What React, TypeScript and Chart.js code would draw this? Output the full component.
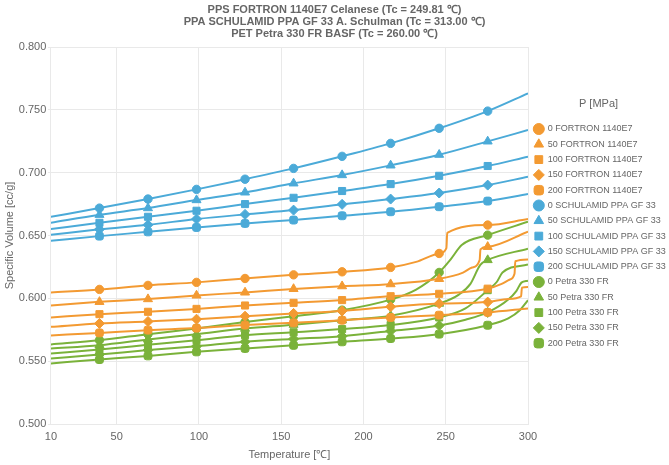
import { useEffect, useRef } from "react";
import { Chart, registerables } from "chart.js";

Chart.register(...registerables);

type Pt = [number, number];

const FONT = "'Liberation Sans', Arial, Helvetica, sans-serif";
const GREY = "#666";
const GRID = "#e9e9e9";

const titleLines = [
  "PPS FORTRON 1140E7 Celanese (Tc = 249.81 ℃)",
  "PPA SCHULAMID PPA GF 33 A. Schulman (Tc = 313.00 ℃)",
  "PET Petra 330 FR BASF (Tc = 260.00 ℃)",
];

// pressures of the isobars, MPa
const pressures = [0, 50, 100, 150, 200];
// temperatures where a marker is shown
const markerTemps = [39.5, 69, 98.5, 128, 157.5, 187, 216.5, 246, 275.5];

// PPS FORTRON 1140E7 [T, v]
const fortron0: Pt[] = [[10, 0.6047], [39.5, 0.6071], [69, 0.6103], [98.5, 0.6127], [128, 0.6158], [157.5, 0.6187], [187, 0.6211], [216.5, 0.6246], [232, 0.629], [246, 0.6357], [250.4, 0.64], [250.9, 0.652], [275.5, 0.6583], [300, 0.6631]];
const fortron50: Pt[] = [[10, 0.5943], [39.5, 0.5972], [69, 0.5994], [98.5, 0.6023], [128, 0.6047], [157.5, 0.6075], [187, 0.6097], [216.5, 0.6113], [246, 0.6155], [260.5, 0.6205], [266, 0.6245], [270.6, 0.6304], [271.1, 0.6389], [275.5, 0.641], [300, 0.653]];
const fortron100: Pt[] = [[10, 0.5848], [39.5, 0.5874], [69, 0.5893], [98.5, 0.5916], [128, 0.5943], [157.5, 0.5964], [187, 0.5986], [216.5, 0.6017], [246, 0.6036], [275.5, 0.6077], [284, 0.6115], [289, 0.615], [291.8, 0.6195], [292.3, 0.6295], [300, 0.631]];
const fortron150: Pt[] = [[10, 0.5773], [39.5, 0.58], [69, 0.5816], [98.5, 0.5834], [128, 0.5858], [157.5, 0.588], [187, 0.59], [216.5, 0.5933], [246, 0.5958], [275.5, 0.597], [288, 0.5995], [295.8, 0.6015], [296.3, 0.6085], [300, 0.609]];
const fortron200: Pt[] = [[10, 0.5705], [39.5, 0.5725], [69, 0.5747], [98.5, 0.5763], [128, 0.5787], [157.5, 0.5805], [187, 0.5826], [216.5, 0.5848], [246, 0.5866], [275.5, 0.5888], [300, 0.592]];

// PPA SCHULAMID PPA GF 33 [T, v]
const schulamid0: Pt[] = [[10, 0.6649], [39.5, 0.6718], [69, 0.679], [98.5, 0.6867], [128, 0.6948], [157.5, 0.7034], [187, 0.713], [216.5, 0.7233], [246, 0.7353], [275.5, 0.749], [300, 0.7631]];
const schulamid50: Pt[] = [[10, 0.6601], [39.5, 0.6665], [69, 0.6718], [98.5, 0.6782], [128, 0.6843], [157.5, 0.6915], [187, 0.6981], [216.5, 0.7058], [246, 0.7143], [275.5, 0.7249], [300, 0.7339]];
const schulamid100: Pt[] = [[10, 0.6551], [39.5, 0.6601], [69, 0.6649], [98.5, 0.6697], [128, 0.675], [157.5, 0.68], [187, 0.6854], [216.5, 0.6909], [246, 0.6975], [275.5, 0.7053], [300, 0.7127]];
const schulamid150: Pt[] = [[10, 0.6506], [39.5, 0.6549], [69, 0.6585], [98.5, 0.6631], [128, 0.6668], [157.5, 0.6702], [187, 0.6748], [216.5, 0.679], [246, 0.6838], [275.5, 0.6901], [300, 0.6967]];
const schulamid200: Pt[] = [[10, 0.6458], [39.5, 0.6495], [69, 0.6529], [98.5, 0.6564], [128, 0.6596], [157.5, 0.6623], [187, 0.6657], [216.5, 0.6689], [246, 0.6729], [275.5, 0.6774], [300, 0.683]];

// PET Petra 330 FR [T, v]
const petra0: Pt[] = [[10, 0.5633], [39.5, 0.5667], [69, 0.5715], [98.5, 0.576], [128, 0.5811], [157.5, 0.5858], [187, 0.5906], [216.5, 0.599], [232, 0.607], [246, 0.6206], [253, 0.631], [259.7, 0.6424], [275.5, 0.6503], [300, 0.6609]];
const petra50: Pt[] = [[10, 0.56], [39.5, 0.5627], [69, 0.5673], [98.5, 0.5715], [128, 0.5759], [157.5, 0.579], [187, 0.5826], [216.5, 0.5862], [246, 0.5958], [258, 0.603], [265, 0.6115], [271, 0.6266], [275.5, 0.6305], [300, 0.6395]];
const petra100: Pt[] = [[10, 0.5561], [39.5, 0.5593], [69, 0.563], [98.5, 0.5667], [128, 0.5707], [157.5, 0.573], [187, 0.5755], [216.5, 0.5787], [246, 0.5848], [262, 0.592], [275.5, 0.6065], [281, 0.613], [284.5, 0.6205], [300, 0.627]];
const petra150: Pt[] = [[10, 0.5521], [39.5, 0.5553], [69, 0.5588], [98.5, 0.5619], [128, 0.5655], [157.5, 0.5677], [187, 0.5699], [216.5, 0.574], [246, 0.5783], [262, 0.583], [275.5, 0.5888], [288, 0.599], [293, 0.606], [296, 0.6125], [300, 0.614]];
const petra200: Pt[] = [[10, 0.5482], [39.5, 0.5513], [69, 0.5542], [98.5, 0.5574], [128, 0.5601], [157.5, 0.5626], [187, 0.5654], [216.5, 0.568], [246, 0.5715], [275.5, 0.5786], [288, 0.584], [295, 0.5905], [300, 0.5985]];

const materials = [
  { name: "FORTRON 1140E7", color: "#F39A32", series: [fortron0, fortron50, fortron100, fortron150, fortron200] },
  { name: "SCHULAMID PPA GF 33", color: "#4BAAD8", series: [schulamid0, schulamid50, schulamid100, schulamid150, schulamid200] },
  { name: "Petra 330 FR", color: "#7AB23A", series: [petra0, petra50, petra100, petra150, petra200] },
];

const pointStyles = ["circle", "triangle", "rect", "rectRot", "rectRounded"];
const markerRadius = [4.2, 5.2, 5, 5, 4.6];

export default function App() {
  const chartRef = useRef<HTMLCanvasElement | null>(null);

  useEffect(() => {
    document.body.style.margin = "0";
    if (!chartRef.current) return;

    const datasets = materials.flatMap((m) =>
      m.series.map((s, i) => ({
        label: `${pressures[i]} ${m.name}`,
        data: s.map(([x, y]) => ({ x, y })),
        showLine: true,
        borderColor: m.color,
        backgroundColor: m.color,
        borderWidth: 2,
        pointStyle: pointStyles[i],
        pointBackgroundColor: m.color,
        pointBorderColor: m.color,
        pointBorderWidth: 1,
        pointRadius: (ctx: any) => (markerTemps.includes(ctx.raw?.x) ? markerRadius[i] : 0),
        pointHoverRadius: 0,
        cubicInterpolationMode: "monotone" as const,
      }))
    );

    const chart = new Chart(chartRef.current, {
      type: "scatter",
      data: { datasets },
      options: {
        animation: false,
        responsive: true,
        maintainAspectRatio: false,
        plugins: {
          title: {
            display: true,
            text: titleLines,
            color: GREY,
            font: { family: FONT, size: 11, weight: "bold", lineHeight: 1.1 },
            padding: { top: 4, bottom: 6.7 }
          },
          legend: {
            position: "right",
            align: "start",
            fullSize: false,
            maxWidth: 141,
            title: {
              display: true,
              text: "P [MPa]",
              color: GREY,
              font: { family: FONT, size: 11 },
              padding: { top: 51.5, bottom: 6.5 }
            },
            labels: {
              usePointStyle: true,
              boxWidth: 9,
              boxHeight: 7.8,
              padding: 6.3,
              color: GREY,
              font: { family: FONT, size: 9 }
            }
          },
          tooltip: { enabled: false }
        },
        scales: {
          x: {
            type: "linear",
            min: 10,
            max: 300,
            ticks: { stepSize: 50, color: GREY, font: { family: FONT, size: 11 }, padding: 1.2 },
            grid: { color: GRID, tickLength: 5.2, tickColor: "rgba(0,0,0,0)" },
            border: { color: GRID },
            title: {
              display: true,
              text: "Temperature [℃]",
              color: GREY,
              font: { family: FONT, size: 11 },
              padding: { top: 3.5, bottom: 3.5 }
            }
          },
          y: {
            min: 0.5,
            max: 0.8,
            ticks: {
              stepSize: 0.05,
              color: GREY,
              font: { family: FONT, size: 11 },
              padding: 1.6,
              callback: (v) => Number(v).toFixed(3)
            },
            grid: { color: GRID, tickLength: 3 },
            border: { color: GRID },
            title: {
              display: true,
              text: "Specific Volume [cc/g]",
              color: GREY,
              font: { family: FONT, size: 11 },
              padding: { top: 3, bottom: 1 }
            }
          }
        }
      }
    });

    return () => chart.destroy();
  }, []);

  return (
    <div style={{ position: "relative", width: 669, height: 465 }}>
      <canvas ref={chartRef} />
    </div>
  );
}
